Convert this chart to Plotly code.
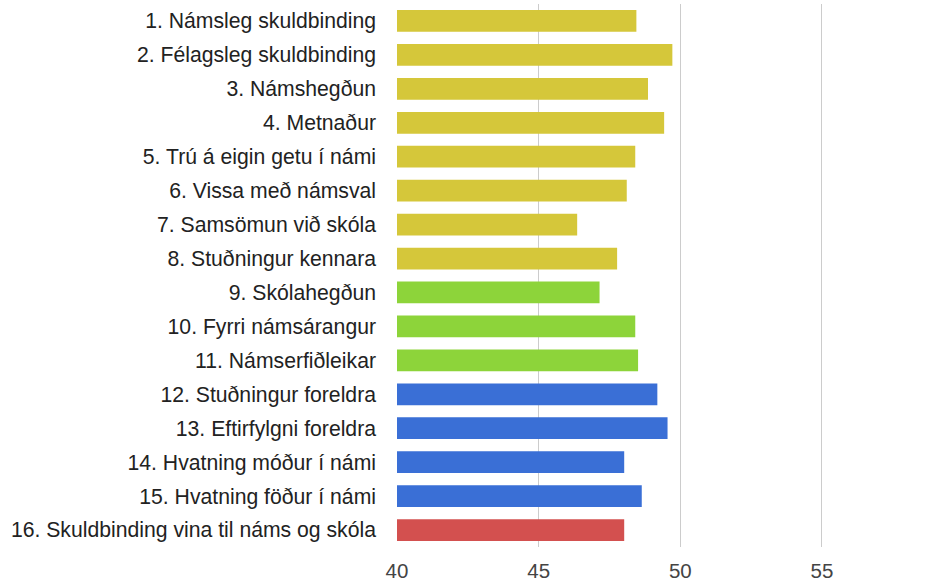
import plotly.graph_objects as go

categories = [
    "1. Námsleg skuldbinding",
    "2. Félagsleg skuldbinding",
    "3. Námshegðun",
    "4. Metnaður",
    "5. Trú á eigin getu í námi",
    "6. Vissa með námsval",
    "7. Samsömun við skóla",
    "8. Stuðningur kennara",
    "9. Skólahegðun",
    "10. Fyrri námsárangur",
    "11. Námserfiðleikar",
    "12. Stuðningur foreldra",
    "13. Eftirfylgni foreldra",
    "14. Hvatning móður í námi",
    "15. Hvatning föður í námi",
    "16. Skuldbinding vina til náms og skóla",
]
values = [48.45, 49.72, 48.86, 49.43, 48.41, 48.11, 46.36, 47.77,
          47.15, 48.41, 48.51, 49.19, 49.55, 48.02, 48.64, 48.02]
groups = ["a"] * 8 + ["b"] * 3 + ["c"] * 4 + ["d"]
x_ticks = [40, 45, 50, 55]

group_colors = {"a": "#d5c73a", "b": "#8dd43a", "c": "#3a6fd6", "d": "#d3504f"}
colors = [group_colors[g] for g in groups]

fig = go.Figure(go.Bar(
    y=categories, x=values, orientation="h",
    marker=dict(color=colors, line=dict(width=0)),
    base=0,
))

fig.update_layout(
    width=948, height=583,
    margin=dict(l=397, r=0, t=4, b=36, autoexpand=False),
    paper_bgcolor="white", plot_bgcolor="white",
    bargap=0.36,
    showlegend=False,
    font=dict(family="Liberation Sans, Arial, sans-serif", size=20, color="#222222"),
)
fig.update_xaxes(
    range=[40, 59.45], tickvals=x_ticks, ticktext=[str(t) for t in x_ticks],
    showgrid=True, gridcolor="#cccccc", gridwidth=1,
    zeroline=False, showline=False,
    tickfont=dict(size=20.5, color="#444444"),
    ticklabelstandoff=9,
)
fig.update_yaxes(
    autorange="reversed", showgrid=False, zeroline=False, showline=False,
    tickfont=dict(size=21.2, color="#222222"),
    ticklabelstandoff=20,
)

fig.write_html(
    "out.html",
    config={"displayModeBar": False},
    post_script="document.body.style.margin='0';document.body.style.padding='0';",
)
